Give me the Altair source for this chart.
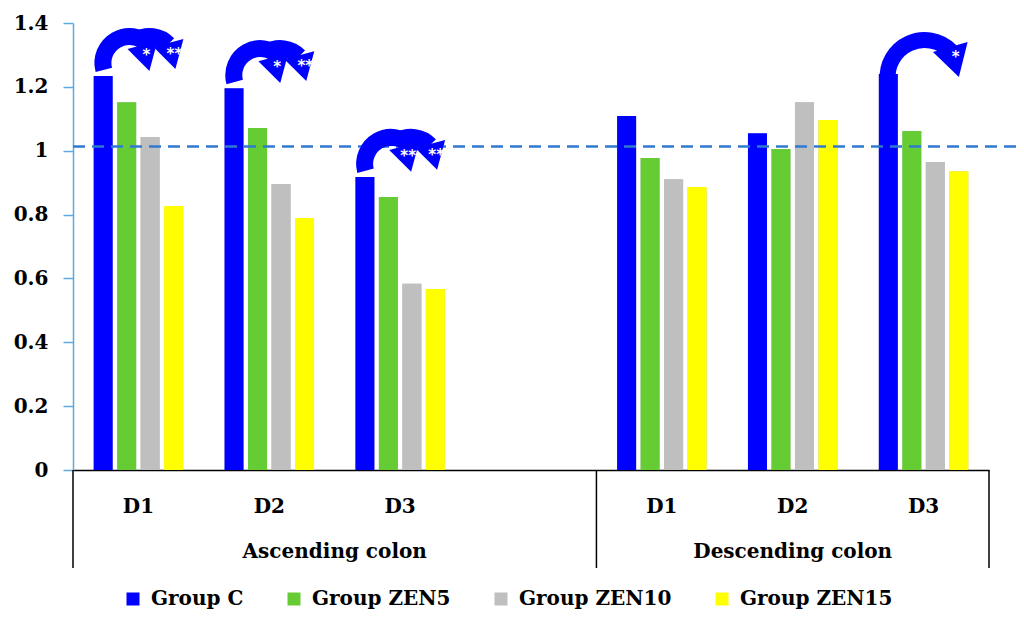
import math
import altair as alt
import pandas as pd

# ---------------- data ----------------
slots = ["Ascending colon|D1", "Ascending colon|D2", "Ascending colon|D3", "Ascending colon|",
         "Descending colon|D1", "Descending colon|D2", "Descending colon|D3"]
bar_slots = ["Ascending colon|D1", "Ascending colon|D2", "Ascending colon|D3",
             "Descending colon|D1", "Descending colon|D2", "Descending colon|D3"]
groups = ["Group C", "Group ZEN5", "Group ZEN10", "Group ZEN15"]
colors = ["#0000FF", "#66CC33", "#BFBFBF", "#FFFF00"]

group_c = [1.234, 1.196, 0.918, 1.109, 1.055, 1.240]
group_zen5 = [1.152, 1.071, 0.855, 0.977, 1.005, 1.062]
group_zen10 = [1.043, 0.896, 0.583, 0.911, 1.152, 0.965]
group_zen15 = [0.827, 0.789, 0.567, 0.886, 1.096, 0.936]

reference_line = [1.013]
y_ticks = [0, 0.2, 0.4, 0.6, 0.8, 1.0, 1.2, 1.4]

arrow_slots = ["Ascending colon|D1", "Ascending colon|D2", "Ascending colon|D3", "Descending colon|D3"]
arrow_first = ["*", "*", "**", ""]
arrow_second = ["**", "**", "**", "*"]

regions = ["Ascending colon", "Descending colon"]

# ---------------- tables ----------------
series = [group_c, group_zen5, group_zen10, group_zen15]
bars = pd.DataFrame([
    {"slot": s, "group": g, "value": vals[i]}
    for g, vals in zip(groups, series)
    for i, s in enumerate(bar_slots)
])
c_lookup = dict(zip(bar_slots, group_c))
arrows = pd.DataFrame({
    "slot": arrow_slots,
    "base": [c_lookup[s] for s in arrow_slots],
    "first": arrow_first,
    "second": arrow_second,
})
refdf = pd.DataFrame({"v": reference_line})
starts = pd.DataFrame({"slot": [next(s for s in slots if s.startswith(r)) for r in regions]})
ends = pd.DataFrame({"slot": [[s for s in slots if s.startswith(regions[-1])][-1]]})
asc_lab = pd.DataFrame({"label": [regions[0]], "slot": ["Ascending colon|D3"]})
desc_lab = pd.DataFrame({"label": [regions[1]], "slot": ["Descending colon|D2"]})

FONT = "DejaVu Serif"
W, H = 916, 447
xscale = alt.Scale(domain=slots, paddingInner=0, paddingOuter=0)
yscale = alt.Scale(domain=[0, 1.4], nice=False, zero=True)
offscale = alt.Scale(domain=groups, paddingInner=0.19, paddingOuter=0.88)

XAXIS = alt.Axis(labelExpr="split(datum.value, '|')[1]", ticks=False, tickSize=0,
                 domainColor="black", domainWidth=1.5, labelAngle=0,
                 labelPadding=26, labelBaseline="top", labelFont=FONT,
                 labelFontSize=20, labelFontWeight="bold", labelColor="black", title=None)
YAXIS = alt.Axis(values=y_ticks, format="~g", grid=False, domainColor="#5DA9E0",
                 domainWidth=1.5, tickColor="#5DA9E0", tickWidth=1.5, tickSize=10,
                 labelPadding=15, labelFont=FONT, labelFontSize=20,
                 labelFontWeight="bold", labelColor="black", title=None)


def xs(**kw):
    return alt.X("slot:N", scale=xscale, sort=slots, axis=XAXIS, title=None, **kw)


def ys(field):
    return alt.Y(field, scale=yscale, axis=YAXIS, title=None)


xoff = alt.XOffset("group:N", scale=offscale, sort=groups)

# bar shadows
shadow1 = alt.Chart(bars).mark_bar(color="#777777", opacity=0.30, xOffset=3).encode(
    x=xs(), xOffset=xoff, y=ys("value:Q"))
shadow2 = alt.Chart(bars).mark_bar(color="#777777", opacity=0.16, xOffset=6).encode(
    x=xs(), xOffset=xoff, y=ys("value:Q"))

barlayer = alt.Chart(bars).mark_bar().encode(
    x=xs(),
    xOffset=xoff,
    y=ys("value:Q"),
    color=alt.Color("group:N", scale=alt.Scale(domain=groups, range=colors), sort=groups,
                    legend=alt.Legend(orient="none", legendX=50, legendY=566, direction="horizontal",
                                      columns=4, title=None, symbolType="square", symbolSize=169,
                                      symbolStrokeWidth=0, labelFont=FONT, labelFontSize=20,
                                      labelFontWeight="bold", labelColor="black", labelOffset=8,
                                      columnPadding=40)),
)

dashed = alt.Chart(refdf).mark_rule(color="#2E7BD0", strokeWidth=2.5, strokeDash=[12, 7]).encode(
    y=ys("v:Q"), x=alt.value(0), x2=alt.value(W + 31))

deg = math.pi / 180
BLUE = "#0000FF"
ya = ys("base:Q")
dbl = "datum.first != ''"
sgl = "datum.first == ''"

# double arrows (two overlapping curved arrows)
a1 = alt.Chart(arrows).transform_filter(dbl).mark_arc(
    color=BLUE, radius=35, radius2=18, theta=255 * deg, theta2=405 * deg,
    xOffset=-9, yOffset=-13).encode(x=xs(), y=ya)
a2 = alt.Chart(arrows).transform_filter(dbl).mark_arc(
    color=BLUE, radius=35, radius2=18, theta=330 * deg, theta2=405 * deg,
    xOffset=11, yOffset=-13).encode(x=xs(), y=ya)
h1 = alt.Chart(arrows).transform_filter(dbl).mark_point(
    shape="triangle-down", filled=True, size=960, angle=345, color=BLUE, opacity=1,
    strokeWidth=0, xOffset=7.5, yOffset=-18).encode(x=xs(), y=ya)
h2 = alt.Chart(arrows).transform_filter(dbl).mark_point(
    shape="triangle-down", filled=True, size=960, angle=345, color=BLUE, opacity=1,
    strokeWidth=0, xOffset=33.5, yOffset=-20).encode(x=xs(), y=ya)
s1 = alt.Chart(arrows).transform_filter(dbl).mark_text(
    color="white", font="DejaVu Sans", fontSize=15, fontWeight="bold",
    baseline="middle", xOffset=8, yOffset=-21).encode(x=xs(), y=ya, text="first:N")
s2 = alt.Chart(arrows).transform_filter(dbl).mark_text(
    color="white", font="DejaVu Sans", fontSize=15, fontWeight="bold",
    baseline="middle", xOffset=36, yOffset=-22).encode(x=xs(), y=ya, text="second:N")

# single arrow (one wider curved arrow)
aS = alt.Chart(arrows).transform_filter(sgl).mark_arc(
    color=BLUE, radius=45, radius2=29, theta=265 * deg, theta2=405 * deg,
    xOffset=1, yOffset=3).encode(x=xs(), y=ya)
hS = alt.Chart(arrows).transform_filter(sgl).mark_point(
    shape="triangle-down", filled=True, size=1300, angle=344, color=BLUE, opacity=1,
    strokeWidth=0, xOffset=31, yOffset=-12).encode(x=xs(), y=ya)
sS = alt.Chart(arrows).transform_filter(sgl).mark_text(
    color="white", font="DejaVu Sans", fontSize=15, fontWeight="bold",
    baseline="middle", xOffset=32, yOffset=-17).encode(x=xs(), y=ya, text="second:N")

sep1 = alt.Chart(starts).mark_rule(color="black", strokeWidth=1.5).encode(
    x=xs(bandPosition=0), y=alt.value(H), y2=alt.value(H + 98))
sep2 = alt.Chart(ends).mark_rule(color="black", strokeWidth=1.5).encode(
    x=xs(bandPosition=1), y=alt.value(H), y2=alt.value(H + 98))

lab_a = alt.Chart(asc_lab).mark_text(font=FONT, fontSize=20, fontWeight="bold", color="black",
                                     baseline="alphabetic").encode(
    x=xs(bandPosition=0), y=alt.value(H + 88), text="label:N")
lab_d = alt.Chart(desc_lab).mark_text(font=FONT, fontSize=20, fontWeight="bold", color="black",
                                      baseline="alphabetic").encode(
    x=xs(bandPosition=0.5), y=alt.value(H + 88), text="label:N")

chart = alt.layer(
    shadow2, shadow1, barlayer, dashed, a1, a2, h1, h2, s1, s2, aS, hS, sS,
    sep1, sep2, lab_a, lab_d
).properties(
    width=W, height=H,
    autosize=alt.AutoSizeParams(type="none"),
    padding={"left": 65, "top": 15, "right": 27, "bottom": 141},
).configure_view(stroke=None)

chart.save("out.html", embed_options={"renderer": "svg", "actions": False})
